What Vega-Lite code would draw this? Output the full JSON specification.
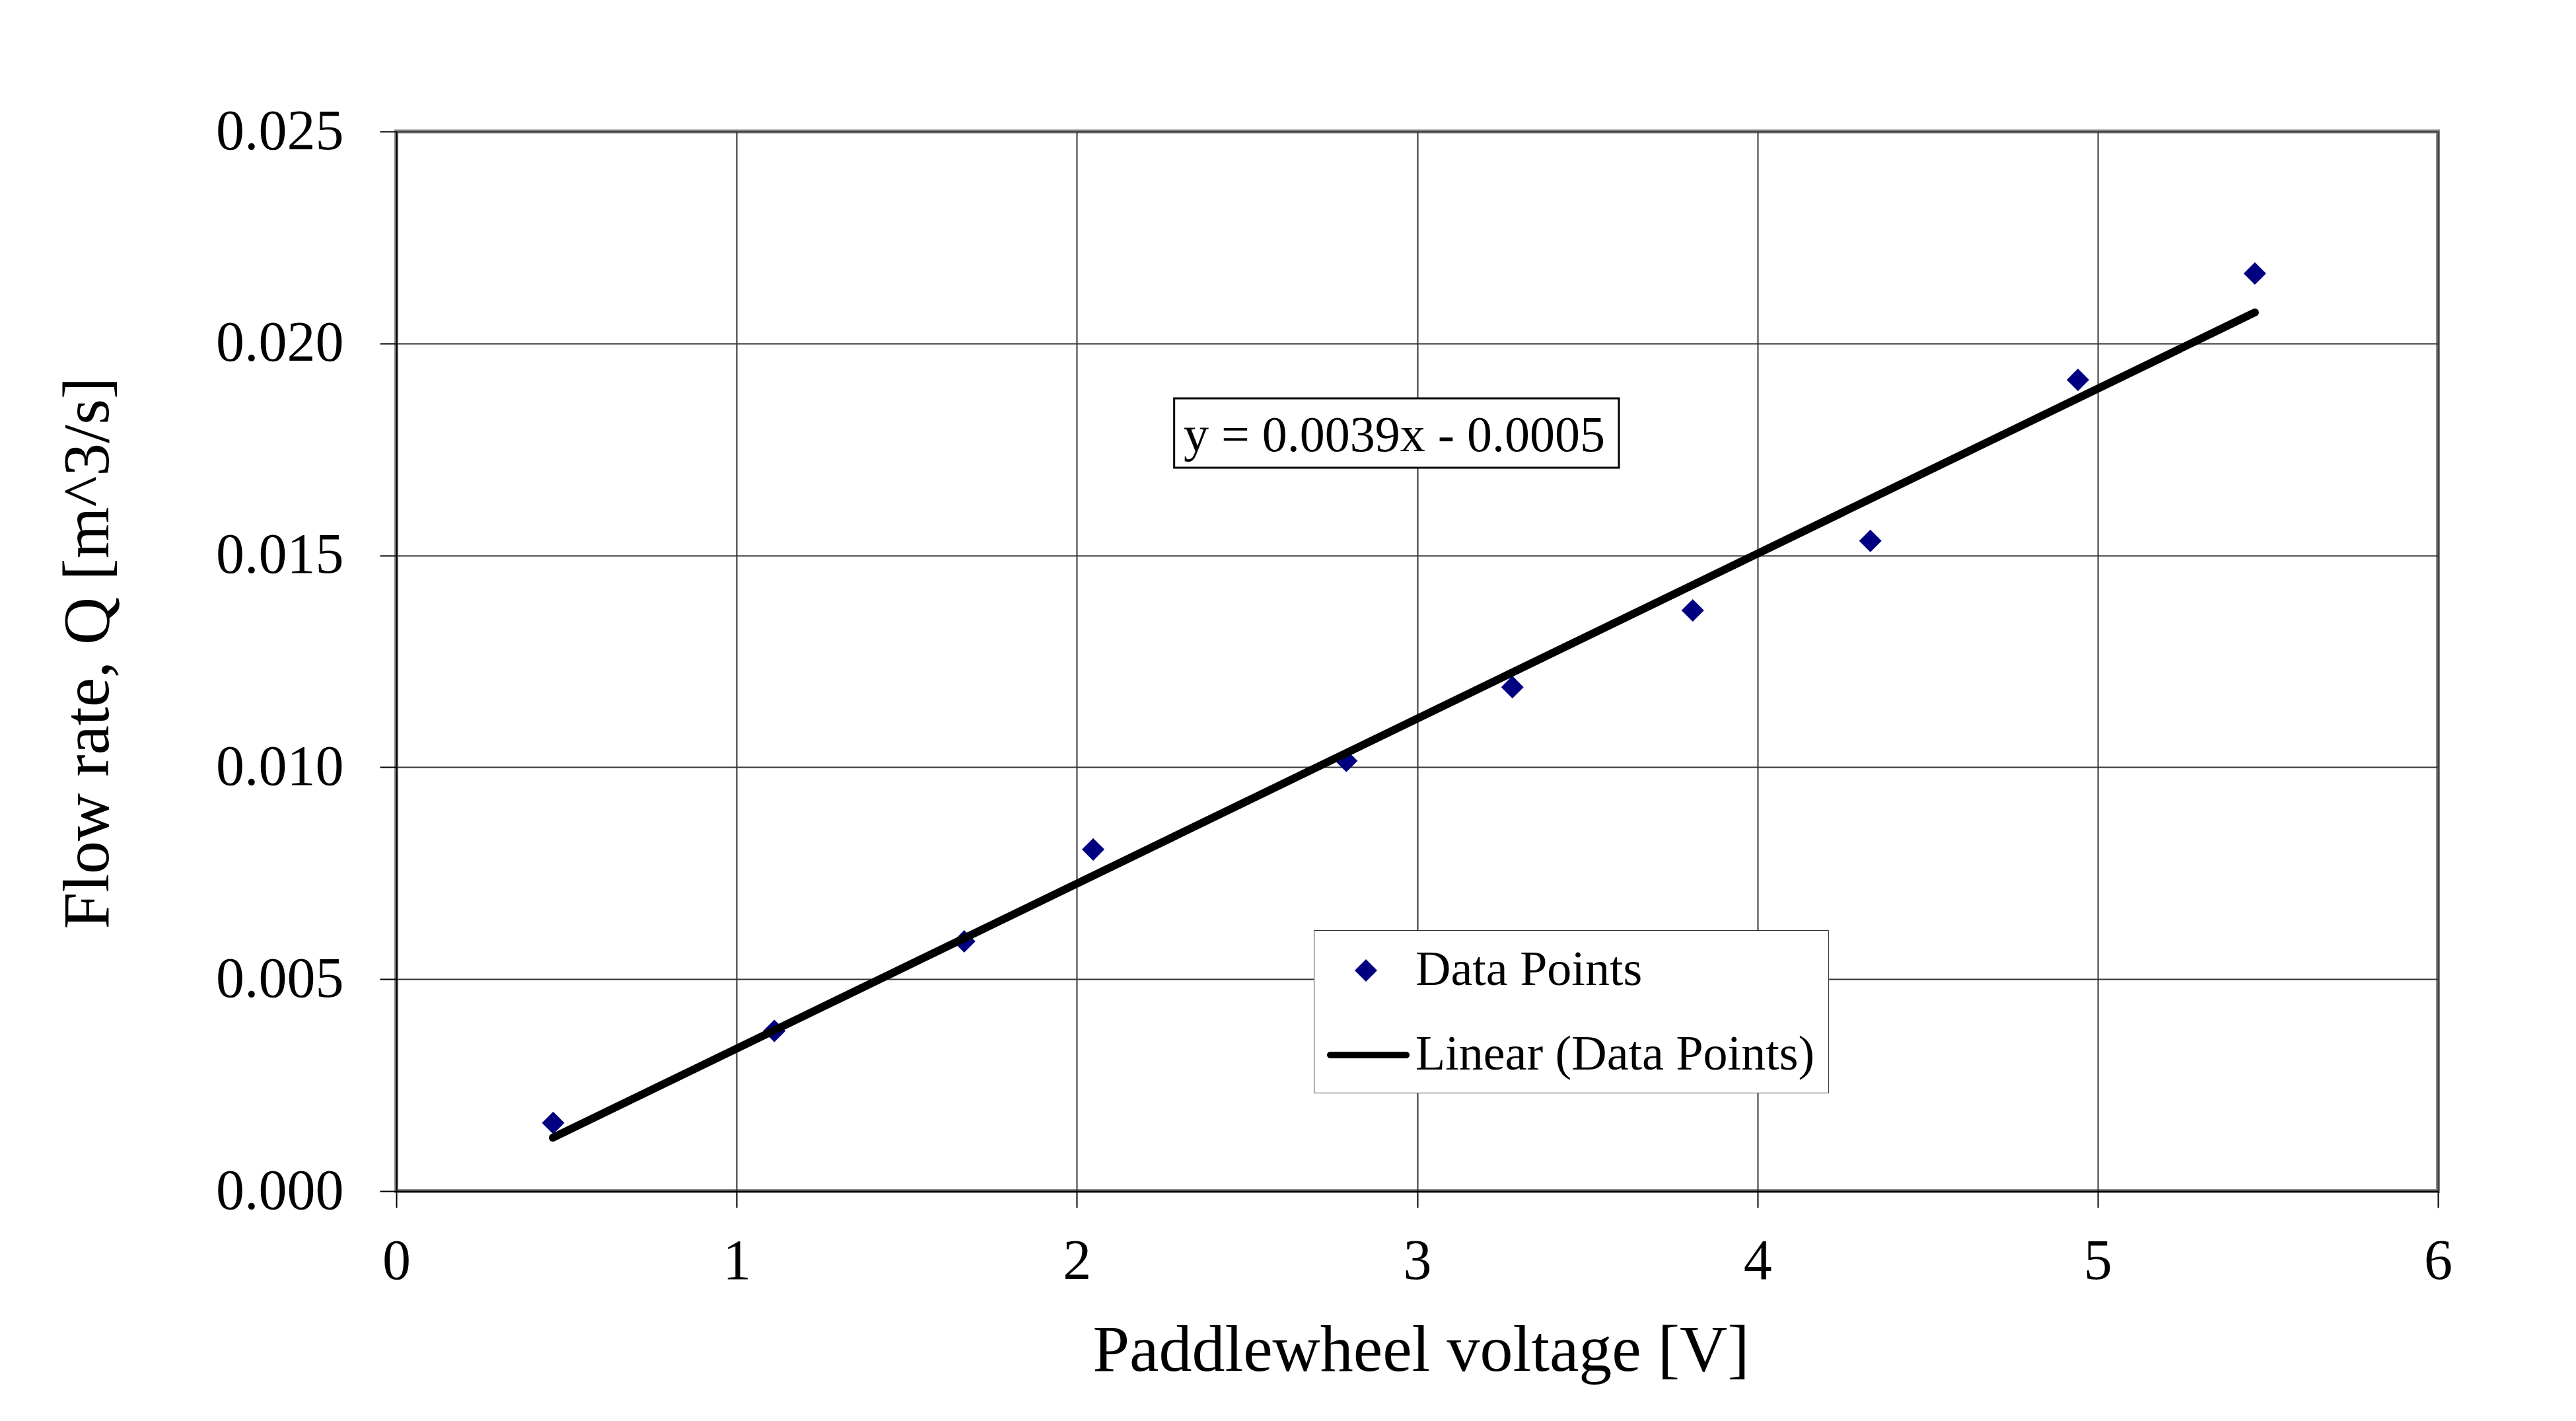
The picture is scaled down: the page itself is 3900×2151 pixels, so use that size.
{
  "$schema": "https://vega.github.io/schema/vega-lite/v6.json",
  "width": 3091,
  "height": 1604,
  "autosize": {"type": "none"},
  "padding": {"left": 600, "top": 199, "right": 209, "bottom": 348},
  "background": "white",
  "config": {
    "font": "Liberation Serif",
    "view": {"stroke": "#888888", "strokeWidth": 6},
    "axis": {
      "grid": true,
      "gridColor": "#333333",
      "gridWidth": 2,
      "domainColor": "black",
      "domainWidth": 2,
      "tickColor": "black",
      "tickWidth": 2,
      "tickSize": 25,
      "labelFont": "Liberation Serif",
      "labelFontSize": 86,
      "labelColor": "black",
      "labelFlush": false,
      "labelOverlap": false,
      "labelLimit": 0,
      "titleFont": "Liberation Serif",
      "titleFontSize": 100,
      "titleFontWeight": "normal",
      "titleColor": "black",
      "titleLimit": 0
    }
  },
  "datasets": {
    "points": [
      {"voltage": 0.461, "flow": 0.00161, "series": "Data Points"},
      {"voltage": 1.111, "flow": 0.00378, "series": "Data Points"},
      {"voltage": 1.669, "flow": 0.00589, "series": "Data Points"},
      {"voltage": 2.048, "flow": 0.00806, "series": "Data Points"},
      {"voltage": 2.792, "flow": 0.01015, "series": "Data Points"},
      {"voltage": 3.280, "flow": 0.01189, "series": "Data Points"},
      {"voltage": 3.810, "flow": 0.01370, "series": "Data Points"},
      {"voltage": 4.332, "flow": 0.01534, "series": "Data Points"},
      {"voltage": 4.942, "flow": 0.01914, "series": "Data Points"},
      {"voltage": 5.462, "flow": 0.02165, "series": "Data Points"}
    ],
    "trend": [
      {"voltage": 0.460, "flow": 0.00126, "series": "Linear (Data Points)"},
      {"voltage": 5.462, "flow": 0.02073, "series": "Linear (Data Points)"}
    ]
  },
  "layer": [
    {
      "data": {"name": "points"},
      "mark": {"type": "point", "filled": true, "size": 6724, "opacity": 1, "strokeWidth": 0, "xOffset": -18},
      "encoding": {
        "x": {
          "field": "voltage", "type": "quantitative",
          "scale": {"domain": [0, 6], "nice": false, "zero": false},
          "axis": {
            "title": "Paddlewheel voltage [V]",
            "values": [0, 1, 2, 3, 4, 5, 6],
            "format": "d",
            "labelPadding": 107,
            "labelBaseline": "alphabetic",
            "titleX": 1551,
            "titleY": 271,
            "titleBaseline": "alphabetic",
            "titleAlign": "center"
          }
        },
        "y": {
          "field": "flow", "type": "quantitative",
          "scale": {"domain": [0, 0.025], "nice": false, "zero": false},
          "axis": {
            "title": "Flow rate, Q [m^3/s]",
            "values": [0, 0.005, 0.01, 0.015, 0.02, 0.025],
            "format": ".3f",
            "labelPadding": 55,
            "labelBaseline": "middle",
            "titleX": -437,
            "titleY": 789,
            "titleAngle": 270,
            "titleBaseline": "alphabetic",
            "titleAlign": "center"
          }
        },
        "color": {
          "field": "series", "type": "nominal",
          "scale": {"domain": ["Data Points", "Linear (Data Points)"], "range": ["#000080", "#000000"]},
          "legend": {
            "title": null, "orient": "none", "legendX": 1389, "legendY": 1209,
            "padding": 20, "strokeColor": "#333333", "fillColor": "white",
            "symbolSize": 6724, "symbolStrokeWidth": 0, "symbolOpacity": 1,
            "labelFont": "Liberation Serif", "labelFontSize": 74, "labelColor": "black",
            "labelOffset": 52, "labelLimit": 0, "rowPadding": 50
          }
        },
        "shape": {
          "field": "series", "type": "nominal",
          "scale": {"domain": ["Data Points", "Linear (Data Points)"], "range": ["M0.439,-0.415L0.854,0L0.439,0.415L0.024,0Z", "M-0.878,-0.122L1.927,-0.122A0.122,0.122 0 0 1 1.927,0.122L-0.878,0.122A0.122,0.122 0 0 1 -0.878,-0.122Z"]},
          "legend": {
            "title": null, "orient": "none", "legendX": 1389, "legendY": 1209,
            "padding": 20, "strokeColor": "#333333", "fillColor": "white",
            "symbolSize": 6724, "symbolStrokeWidth": 0, "symbolOpacity": 1,
            "labelFont": "Liberation Serif", "labelFontSize": 74, "labelColor": "black",
            "labelOffset": 52, "labelLimit": 0, "rowPadding": 50
          }
        }
      }
    },
    {
      "data": {"name": "trend"},
      "mark": {"type": "line", "color": "black", "strokeWidth": 12, "strokeCap": "round"},
      "encoding": {
        "x": {"field": "voltage", "type": "quantitative"},
        "y": {"field": "flow", "type": "quantitative"}
      }
    },
    {
      "data": {"values": [{}]},
      "mark": {"type": "rect", "fill": "white", "stroke": "black", "strokeWidth": 3},
      "encoding": {
        "x": {"datum": 2.286, "type": "quantitative"},
        "x2": {"datum": 3.593},
        "y": {"datum": 0.018703, "type": "quantitative"},
        "y2": {"datum": 0.017067}
      }
    },
    {
      "data": {"values": [{}]},
      "mark": {"type": "text", "font": "Liberation Serif", "fontSize": 76, "color": "black", "align": "center", "baseline": "alphabetic", "text": "y = 0.0039x - 0.0005"},
      "encoding": {
        "x": {"datum": 2.933, "type": "quantitative"},
        "y": {"datum": 0.017456, "type": "quantitative"}
      }
    }
  ]
}
